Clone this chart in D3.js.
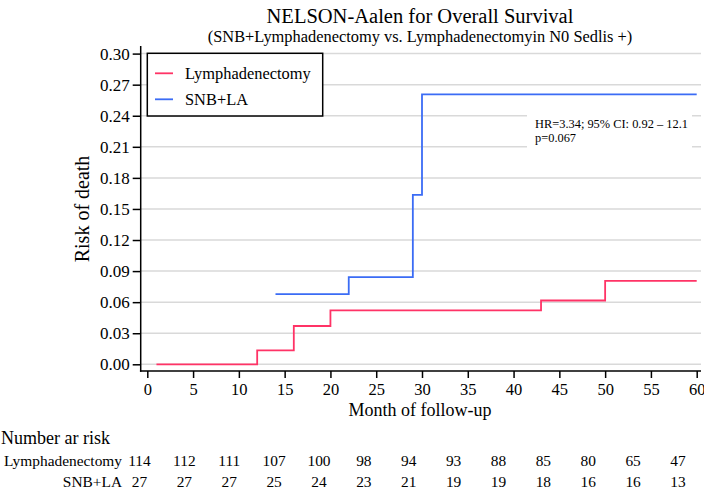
<!DOCTYPE html>
<html>
<head>
<meta charset="utf-8">
<script src="https://cdn.jsdelivr.net/npm/d3@7"></script>
<style>
  html, body { margin: 0; padding: 0; background: #fff; }
  svg { display: block; font-family: "Liberation Serif", "Times New Roman", Times, serif; }
</style>
</head>
<body>
<svg id="chart" width="704" height="490"></svg>
<script>
// ---- data ----
const lymphMonths = [1, 12, 16, 20, 43, 50, 60];
const lymphRisk   = [0.000, 0.0135, 0.037, 0.052, 0.0616, 0.0806, 0.0806];
const snbMonths   = [14, 22, 29, 30, 60];
const snbRisk     = [0.0677, 0.0842, 0.1635, 0.2607, 0.2607];

const yTicks = [0.00, 0.03, 0.06, 0.09, 0.12, 0.15, 0.18, 0.21, 0.24, 0.27, 0.30];
const xTicks = [0, 5, 10, 15, 20, 25, 30, 35, 40, 45, 50, 55, 60];

const seriesNames = ["Lymphadenectomy", "SNB+LA"];
const seriesColors = ["#ff3366", "#3b6cf5"];

const riskTimes = [0, 5, 10, 15, 20, 25, 30, 35, 40, 45, 50, 55, 60];
const riskLymph = [114, 112, 111, 107, 100, 98, 94, 93, 88, 85, 80, 65, 47];
const riskSnb   = [27, 27, 27, 25, 24, 23, 21, 19, 19, 18, 16, 16, 13];

const titleText = "NELSON-Aalen for Overall Survival";
const subtitleText = "(SNB+Lymphadenectomy vs. Lymphadenectomyin N0 Sedlis +)";
const annotationLines = ["HR=3.34; 95% CI: 0.92 \u2013 12.1", "p=0.067"];

// ---- layout ----
const svg = d3.select("#chart");
const x = d3.scaleLinear().domain([0, 60]).range([147.3, 696.7]);
const y = d3.scaleLinear().domain([0, 0.30]).range([364.3, 53.6]);
const axisX = 140.7, axisY = 371;
const plotRight = 701, plotTop = 46;

// title
svg.append("text").attr("x", 420).attr("y", 23).attr("text-anchor", "middle")
  .style("font-size", "20.5px").attr("fill", "#000").text(titleText);
svg.append("text").attr("x", 420).attr("y", 42).attr("text-anchor", "middle")
  .style("font-size", "16.4px").attr("fill", "#000").text(subtitleText);

// gridlines
svg.append("g").selectAll("line").data(yTicks).join("line")
  .attr("x1", axisX).attr("x2", plotRight)
  .attr("y1", d => y(d)).attr("y2", d => y(d))
  .attr("stroke", "#d9d9d9").attr("stroke-width", 1.5);

// annotation background
svg.append("rect").attr("x", 527).attr("y", 106).attr("width", 165).attr("height", 50)
  .attr("fill", "#fff");
svg.append("g").selectAll("text").data(annotationLines).join("text")
  .attr("x", 535).attr("y", (d, i) => 127.5 + i * 14.3)
  .style("font-size", "12.4px").attr("fill", "#000").text(d => d);

// step lines
const line = d3.line().x(d => x(d[0])).y(d => y(d[1])).curve(d3.curveStepAfter);
const seriesData = [
  d3.zip(lymphMonths, lymphRisk),
  d3.zip(snbMonths, snbRisk)
];
svg.append("g").selectAll("path").data(seriesData).join("path")
  .attr("d", line).attr("fill", "none")
  .attr("stroke", (d, i) => seriesColors[i]).attr("stroke-width", 1.8);

// axes
const yAxis = d3.axisLeft(y).tickValues(yTicks).tickFormat(d3.format(".2f"))
  .tickSize(8).tickPadding(3);
const gy = svg.append("g").attr("transform", `translate(${axisX},0)`).call(yAxis);
gy.select(".domain").remove();
gy.selectAll(".tick line").attr("stroke", "#000").attr("stroke-width", 1.5);
gy.selectAll(".tick text").style("font-size", "17px").attr("fill", "#000")
  .style("font-family", "'Liberation Serif', 'Times New Roman', serif");

const xAxis = d3.axisBottom(x).tickValues(xTicks).tickFormat(d3.format("d"))
  .tickSize(7).tickPadding(5.5);
const gx = svg.append("g").attr("transform", `translate(0,${axisY})`).call(xAxis);
gx.select(".domain").remove();
gx.selectAll(".tick line").attr("stroke", "#000").attr("stroke-width", 1.5);
gx.selectAll(".tick text").style("font-size", "16.5px").attr("fill", "#000")
  .style("font-family", "'Liberation Serif', 'Times New Roman', serif");

svg.append("line").attr("x1", axisX).attr("x2", axisX).attr("y1", plotTop).attr("y2", axisY + 0.75)
  .attr("stroke", "#000").attr("stroke-width", 1.5);
svg.append("line").attr("x1", axisX - 0.75).attr("x2", plotRight).attr("y1", axisY).attr("y2", axisY)
  .attr("stroke", "#000").attr("stroke-width", 1.5);

// axis titles
svg.append("text").attr("x", 420).attr("y", 416).attr("text-anchor", "middle")
  .style("font-size", "18px").attr("fill", "#000").text("Month of follow-up");
svg.append("text").attr("transform", `translate(89,${(y(0) + y(0.30)) / 2}) rotate(-90)`)
  .attr("text-anchor", "middle").style("font-size", "20px").attr("fill", "#000").text("Risk of death");

// legend
const lg = svg.append("g");
lg.append("rect").attr("x", 147.3).attr("y", 53.3).attr("width", 175.4).attr("height", 62.7)
  .attr("fill", "#fff").attr("stroke", "#000").attr("stroke-width", 1.5);
const items = lg.selectAll("g.item").data(seriesNames).join("g")
  .attr("transform", (d, i) => `translate(0,${73.3 + i * 26})`);
items.append("line").attr("x1", 155).attr("x2", 173).attr("y1", 0).attr("y2", 0)
  .attr("stroke", (d, i) => seriesColors[i]).attr("stroke-width", 1.8);
items.append("text").attr("x", 185).attr("y", 5.8).style("font-size", "16.4px")
  .attr("fill", "#000").text(d => d);

// number at risk table
const xr = d3.scaleLinear().domain([0, 60]).range([139.5, 678]);
svg.append("text").attr("x", 1).attr("y", 444).style("font-size", "18px")
  .attr("fill", "#000").text("Number ar risk");
const rows = [riskLymph, riskSnb];
const rowY = [465.5, 486.5];
rows.forEach((vals, r) => {
  svg.append("text").attr("x", 122).attr("y", rowY[r]).attr("text-anchor", "end")
    .style("font-size", "15.4px").attr("fill", "#000").text(seriesNames[r]);
  svg.append("g").selectAll("text").data(d3.zip(riskTimes, vals)).join("text")
    .attr("x", d => xr(d[0])).attr("y", rowY[r]).attr("text-anchor", "middle")
    .style("font-size", "15.4px").attr("fill", "#000").text(d => d[1]);
});
</script>
</body>
</html>
